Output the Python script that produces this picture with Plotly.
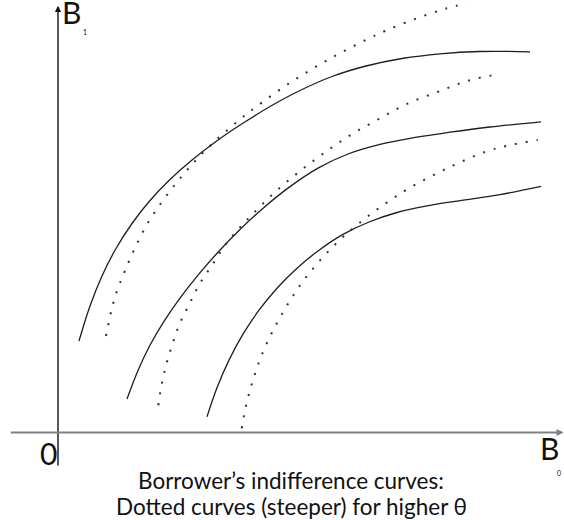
import plotly.graph_objects as go

# Read-off values. B0 horizontal, B1 vertical (origin where the axes cross).
solid1_b0 = [21, 32, 44, 58, 74, 92, 112, 134, 158, 184, 212, 242, 274, 308, 344, 382, 422, 472]
solid1_b1 = [91.5, 126.5, 156.5, 184, 209, 232, 253, 272.5, 291, 308.7, 326, 342, 356, 366.5,
             374, 378.7, 381, 380.7]

dot1_b0 = [48, 55, 62, 88.7, 120, 148.7, 180, 197, 232.7, 269.7, 307.7, 327, 357, 388.7, 408.7]
dot1_b1 = [96.5, 128.5, 149.5, 207.5, 251.5, 283.5, 311.5, 324.8, 350.2, 372.5, 392.5, 401.5,
           413.5, 424.2, 429.2]

solid2_b0 = [69, 80, 92, 106, 122, 140, 160, 182, 206, 232, 260, 290, 322, 356, 392, 432, 483]
solid2_b1 = [33.5, 62.1, 87.3, 111.1, 134.3, 157.3, 180.3, 203, 225.1, 245.9, 264.4, 278.5,
             288.1, 294.9, 300.3, 305.5, 310.6]

dot2_b0 = [100.3, 103.7, 108.7, 115, 122.3, 132, 142, 153.7, 165.3, 178.7, 193.7, 216.3, 241.3, 267,
           293.7, 322, 350.3, 380.3, 410, 442]
dot2_b1 = [27.2, 48.5, 69.5, 90.2, 110.2, 129.8, 149.2, 166.8, 184.8, 201.5, 217.5, 239.8, 260.8,
           280.2, 298.2, 314.2, 329.2, 340.8, 351.8, 358.5]

solid3_b0 = [149, 159, 171, 185, 201, 219, 239, 261, 285, 311, 339, 369, 401, 442, 483]
solid3_b1 = [15.8, 44.8, 72.4, 98.3, 122.3, 144.3, 164.3, 182.3, 198.1, 210.5, 220, 226.6,
             231.7, 237.9, 246.1]

dot3_b0 = [183.7, 187.7, 193, 199.7, 207.7, 217, 227.7, 239.3, 252, 266, 281, 297, 313.7, 328.7,
           349.7, 387.7, 427, 448, 479.7]
dot3_b1 = [4.2, 25.5, 45.8, 66.8, 86.8, 105.8, 124.8, 143.2, 160.2, 176.5, 191.8, 205.8, 219.2,
           229.8, 243.5, 263.5, 280.5, 286.5, 292.5]

caption1 = "Borrower\u2019s indifference curves:"
caption2 = "Dotted curves (steeper) for higher \u03b8"

FONT = "Lato"
fig = go.Figure()

for xs, ys in [(solid1_b0, solid1_b1), (solid2_b0, solid2_b1), (solid3_b0, solid3_b1)]:
    fig.add_trace(go.Scatter(x=xs, y=ys, mode="lines",
                             line=dict(color="#1e1e1e", width=1.3, shape="spline", smoothing=1),
                             hoverinfo="skip", showlegend=False))
for xs, ys in [(dot1_b0, dot1_b1), (dot2_b0, dot2_b1), (dot3_b0, dot3_b1)]:
    fig.add_trace(go.Scatter(x=xs, y=ys, mode="lines",
                             line=dict(color="#333333", width=2, shape="spline", dash="2px,9px"),
                             hoverinfo="skip", showlegend=False))

# axes with arrows
fig.add_annotation(x=0, y=426.8, ax=0, ay=-34.5, xref="x", yref="y", axref="x", ayref="y",
                   text="", showarrow=True, arrowhead=2, arrowsize=0.9, arrowwidth=1.4,
                   arrowcolor="#111111")
fig.add_annotation(x=505.5, y=0, ax=-48.7, ay=0, xref="x", yref="y", axref="x", ayref="y",
                   text="", showarrow=True, arrowhead=2, arrowsize=0.7, arrowwidth=2,
                   arrowcolor="#808080")

# labels
fig.add_annotation(x=13.7, y=420.5, xref="x", yref="y", text="B", showarrow=False,
                   font=dict(family=FONT, size=30, color="#111"), xanchor="center", yanchor="middle")
fig.add_annotation(x=27, y=400.5, xref="x", yref="y", text="1", showarrow=False,
                   font=dict(family=FONT, size=7, color="#111"), xanchor="center", yanchor="middle")
fig.add_annotation(x=-9.3, y=-20.5, xref="x", yref="y", text="0", showarrow=False,
                   font=dict(family=FONT, size=30, color="#111"), xanchor="center", yanchor="middle")
fig.add_annotation(x=491, y=-15.5, xref="x", yref="y", text="B", showarrow=False,
                   font=dict(family=FONT, size=30, color="#111"), xanchor="center", yanchor="middle")
fig.add_annotation(x=501, y=-40.5, xref="x", yref="y", text="0", showarrow=False,
                   font=dict(family=FONT, size=7, color="#111"), xanchor="center", yanchor="middle")

fig.add_annotation(x=290.5 / 564, y=1 - 480.5 / 520, xref="paper", yref="paper", text=caption1,
                   showarrow=False, font=dict(family=FONT, size=22.5, color="#111"),
                   xanchor="center", yanchor="middle")
fig.add_annotation(x=291 / 564, y=1 - 506.5 / 520, xref="paper", yref="paper", text=caption2,
                   showarrow=False, font=dict(family=FONT, size=22.5, color="#111"),
                   xanchor="center", yanchor="middle")

fig.update_layout(
    width=564, height=520,
    margin=dict(l=0, r=0, t=0, b=0, pad=0),
    paper_bgcolor="white", plot_bgcolor="white",
    xaxis=dict(range=[-58, 506], visible=False, fixedrange=True),
    yaxis=dict(range=[-87.5, 432.5], visible=False, fixedrange=True),
)

fig.write_html("out.html", config={"displayModeBar": False},
               post_script="document.body.style.margin='0';document.body.style.overflow='hidden';")
